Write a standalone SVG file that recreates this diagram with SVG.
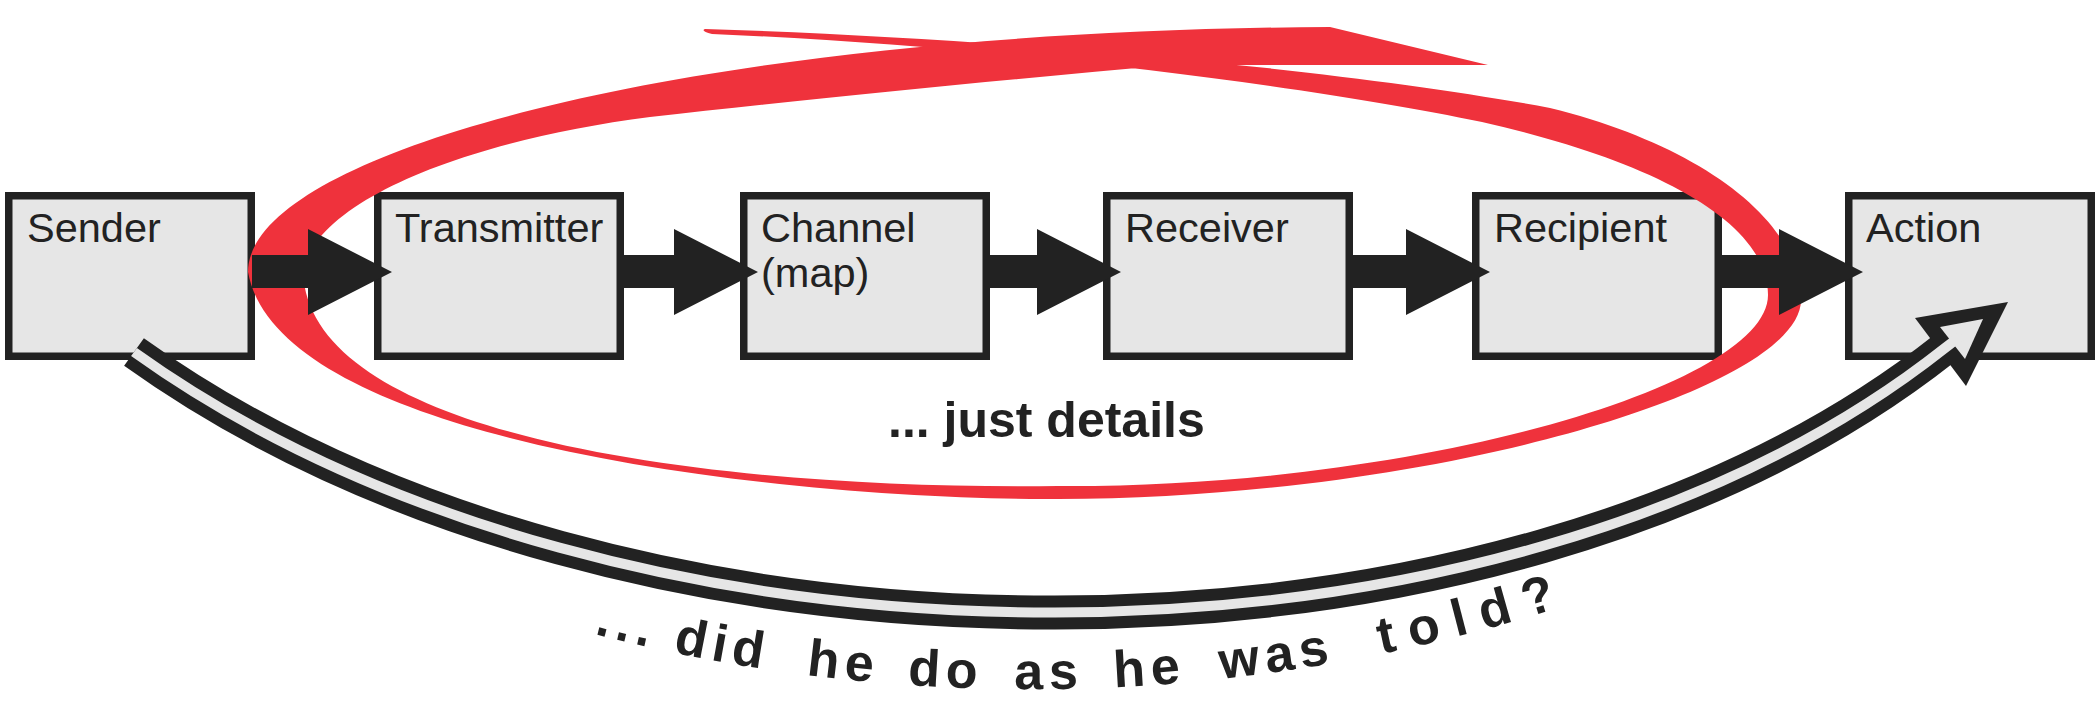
<svg xmlns="http://www.w3.org/2000/svg" width="2100" height="707" viewBox="0 0 2100 707">
<style>
.box{fill:#e6e6e6;stroke:#222;stroke-width:7.5}
.lbl{font-family:"Liberation Sans",Arial,sans-serif;font-size:41.5px;fill:#222}
.arr{fill:#222}
.ring{fill:#ef323c}
.note{font-family:"Liberation Sans",Arial,sans-serif;font-weight:bold;fill:#222}
.cw{font-family:"Liberation Sans",Arial,sans-serif;font-weight:bold;fill:#222;font-size:52px;letter-spacing:6px}
</style>
<defs>
<path id="textArc" d="M594,634 A1750,1750 0 0 0 1760,530"/>
</defs>
<rect width="2100" height="707" fill="#fff"/>
<g id="sender"><rect class="box" x="8.75" y="195.75" width="242.5" height="160.5"/><text class="lbl" x="27" y="242">Sender</text></g>
<g id="transmitter"><rect class="box" x="377.75" y="195.75" width="242.5" height="160.5"/><text class="lbl" x="395" y="242">Transmitter</text></g>
<g id="channel"><rect class="box" x="743.75" y="195.75" width="242.5" height="160.5"/><text class="lbl" x="761" y="242">Channel</text><text class="lbl" x="761" y="287">(map)</text></g>
<g id="receiver"><rect class="box" x="1106.75" y="195.75" width="242.5" height="160.5"/><text class="lbl" x="1125" y="242">Receiver</text></g>
<g id="recipient"><rect class="box" x="1475.75" y="195.75" width="242.5" height="160.5"/><text class="lbl" x="1494" y="242">Recipient</text></g>
<g id="action"><rect class="box" x="1848.75" y="195.75" width="242.5" height="160.5"/><text class="lbl" x="1866" y="242">Action</text></g>
<g id="loop">
<path class="ring" d="M705,29 C1000,38 1350,70 1550,108 C1700,145 1801,220 1801,300 C1801,390 1430,499 1058,499 C820,501 280,450 248,272 C248,150 700,30 1330,27 L1488,65 L1172,65 C1000,80 800,100 650,117 C470,140 315,200 303,272 C310,440 720,490 1058,486 C1420,488 1768,385 1768,295 C1768,220 1650,160 1482,122 C1300,85 1000,46 712,34 Q700,31 705,29 Z"/>
<text class="note" x="888" y="437" font-size="50">... just details</text>
</g>
<g id="connectors">
<path class="arr" d="M252,255 H308 V229 L392,272 L308,315 V288 H252 Z"/>
<path class="arr" d="M621,255 H674 V229 L758,272 L674,315 V288 H621 Z"/>
<path class="arr" d="M984,255 H1037 V229 L1121,272 L1037,315 V288 H984 Z"/>
<path class="arr" d="M1347,255 H1406 V229 L1490,272 L1406,315 V288 H1347 Z"/>
<path class="arr" d="M1716,255 H1779 V229 L1863,272 L1779,315 V288 H1716 Z"/>
<g id="feedback">
<path d="M134,352 C620,700 1500,700 1945,348" fill="none" stroke="#222" stroke-width="34"/>
<polygon points="2008,302 1915,318 1966,386" fill="#222"/>
<polygon points="1983,319 1940,327 1965,359" fill="#e6e6e6"/>
<path d="M134,352 C620,700 1500,700 1945,348 L1962,335" fill="none" stroke="#e6e6e6" stroke-width="10"/>
</g>
</g>
<g id="question">
<text class="cw"><textPath href="#textArc" startOffset="0">...</textPath></text>
<text class="cw"><textPath href="#textArc" startOffset="81">did</textPath></text>
<text class="cw"><textPath href="#textArc" startOffset="216">he</textPath></text>
<text class="cw"><textPath href="#textArc" startOffset="318">do</textPath></text>
<text class="cw"><textPath href="#textArc" startOffset="425">as</textPath></text>
<text class="cw"><textPath href="#textArc" startOffset="525">he</textPath></text>
<text class="cw"><textPath href="#textArc" startOffset="632">was</textPath></text>
<text class="cw" style="letter-spacing:14px"><textPath href="#textArc" startOffset="794">told?</textPath></text>
</g>
</svg>
